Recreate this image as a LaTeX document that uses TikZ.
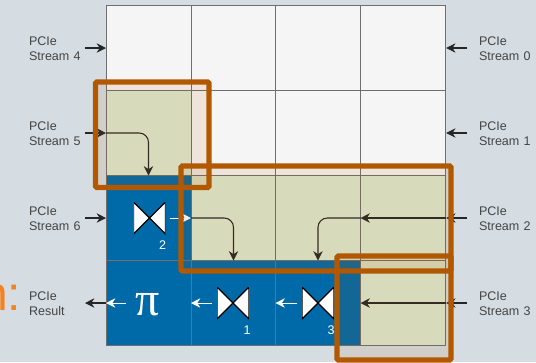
\documentclass[tikz,border=0pt]{standalone}
\usepackage{fontspec}
\setsansfont{Liberation Sans}
\newfontfamily\pifont{Liberation Serif}
\usetikzlibrary{arrows.meta, positioning}

\definecolor{pagebg}{HTML}{D5DDE3}
\definecolor{gridline}{HTML}{6E6E6E}
\definecolor{cellfree}{HTML}{F5F5F5}
\definecolor{cellwait}{HTML}{DCEAD2}
\definecolor{celldone}{HTML}{0069A8}
\definecolor{boxorange}{HTML}{B25800}
\definecolor{titleorange}{HTML}{F58220}
\definecolor{labelgrey}{HTML}{444444}

\tikzset{
	cell/.style={draw=gridline, line width=0.75pt, minimum width=63.75pt, minimum height=63.75pt, inner sep=0pt, outer sep=0pt},
	freecell/.style={cell, fill=cellfree},
	waitcell/.style={cell, fill=cellwait},
	donecell/.style={cell, fill=celldone},
	streamlabel/.style={text=labelgrey, font=\sffamily\fontsize{9.4}{11.25}\selectfont, align=left, text width=39pt, inner sep=0pt, outer sep=0pt},
	flow/.style={->, line width=0.8pt, black!85},
	whiteflow/.style={->, line width=0.7pt, white},
	bowtie/.style={minimum width=24pt, minimum height=24pt, inner sep=0pt, outer sep=0pt,
		path picture={
			\draw[fill=white, line width=0.9pt, line join=round]
				(path picture bounding box.north west) -- (path picture bounding box.south east)
				-- (path picture bounding box.north east) -- (path picture bounding box.south west) -- cycle;
		}},
	stagenum/.style={text=white, font=\sffamily\fontsize{9.4}{11}\selectfont, inner sep=0pt},
	selbox/.style={draw=boxorange, line width=4.1pt, fill=boxorange, fill opacity=0.1, draw opacity=1, rounded corners=1.2pt}
}

\begin{document}
\begin{tikzpicture}[x=0.75pt, y=-0.75pt, >={Stealth[length=7pt, width=7pt]}, font=\sffamily]

		% Page
		\useasboundingbox (0,0) rectangle (536,362);
		\fill[pagebg] (0,0) rectangle (536,362);

		% Leftover of the slide title
		\node[anchor=base east, inner sep=0pt, text=titleorange, font=\sffamily\fontsize{36}{36}\selectfont] (title) at (21.6,310) {n:};

		% ---------------------------------------------------------
		% Grid
		% ---------------------------------------------------------
		\node[freecell] (cella0) at (148.5,48) {};
		\node[freecell] (cella1) at (233.5,48) {};
		\node[freecell] (cella2) at (318,48) {};
		\node[freecell] (cella3) at (403,48) {};

		\node[waitcell] (cellb0) at (148.5,133) {};
		\node[freecell] (cellb1) at (233.5,133) {};
		\node[freecell] (cellb2) at (318,133) {};
		\node[freecell] (cellb3) at (403,133) {};

		\node[donecell] (cellc0) at (148.5,218) {};
		\node[waitcell] (cellc1) at (233.5,218) {};
		\node[waitcell] (cellc2) at (318,218) {};
		\node[waitcell] (cellc3) at (403,218) {};

		\node[donecell] (celld0) at (148.5,303) {};
		\node[donecell] (celld1) at (233.5,303) {};
		\node[donecell] (celld2) at (318,303) {};
		\node[waitcell] (celld3) at (403,303) {};

		% Operators
		\node[bowtie] (tie2) at (149.5,218) {};
		\node[bowtie] (tie1) at (233,303) {};
		\node[bowtie] (tie3) at (318,303) {};
		\node[stagenum] (num2) at (162.5,245) {2};
		\node[stagenum] (num1) at (247,330) {1};
		\node[stagenum] (num3) at (331,330) {3};
		\node[text=white, inner sep=0pt, font=\pifont\fontsize{36}{36}\selectfont] (product) at (148,305) {π};

		% ---------------------------------------------------------
		% Labels
		% ---------------------------------------------------------
		\node[streamlabel] (stream4) at (55,48.7) {PCIe\\Stream 4};
		\node[streamlabel] (stream5) at (55,133.7) {PCIe\\Stream 5};
		\node[streamlabel] (stream6) at (55,218.7) {PCIe\\Stream 6};
		\node[streamlabel] (result) at (55,303.7) {PCIe\\Result};

		\node[streamlabel] (stream0) at (505,48.7) {PCIe\\Stream 0};
		\node[streamlabel] (stream1) at (505,133.7) {PCIe\\Stream 1};
		\node[streamlabel] (stream2) at (505,218.7) {PCIe\\Stream 2};
		\node[streamlabel] (stream3) at (505,303.7) {PCIe\\Stream 3};

		% ---------------------------------------------------------
		% Arrows
		% ---------------------------------------------------------
		% Left side
		\draw[flow, shorten <=3pt] (stream4.east |- cella0) -- (cella0);
		\draw[flow, shorten <=3pt] (stream5.east |- cellb0) -- (cellb0);
		\draw[flow, shorten <=3pt] (stream6.east |- cellc0) -- (cellc0);
		\draw[flow, shorten >=3pt] (celld0) -- (result.east |- celld0);

		% Right side
		\draw[flow, shorten <=9pt, shorten >=0.5pt] (stream0.west |- cella3) -- (cella3);
		\draw[flow, shorten <=9pt, shorten >=0.5pt] (stream1.west |- cellb3) -- (cellb3);
		\draw[flow, shorten <=9pt, shorten >=0.5pt] (stream2.west |- cellc3) -- (cellc3);
		\draw[flow, shorten <=9pt, shorten >=0.5pt] (stream3.west |- celld3) -- (celld3);

		% Across the cells
		\draw[flow, rounded corners=7pt] (cellb0.west) -| (cellb0.south);
		\draw[flow, rounded corners=7pt] (cellc1.west) -| (cellc1.south);
		\draw[flow] (cellc3.east) -- (cellc3.west);
		\draw[flow] (celld3.east) -- (celld3.west);
		\draw[flow, rounded corners=7pt] (cellc3.west) -- (cellc2.center) -- (cellc2.south);

		% Through the operators
		\draw[whiteflow, shorten <=3pt] (tie2.east) -- (cellc1.west);
		\draw[whiteflow, shorten <=3.5pt] (tie1.west) -- (celld1.west);
		\draw[whiteflow, shorten <=3.5pt] (tie3.west) -- (celld2.west);
		\draw[whiteflow, shorten <=7pt] (product.west |- celld0.center) -- (celld0.west);

		% ---------------------------------------------------------
		% Selection boxes
		% ---------------------------------------------------------
		\draw[selbox] (95.5,82) rectangle (209,187.5);
		\draw[selbox] (181,166) rectangle (451,271);
		\draw[selbox] (337,256) rectangle (451,360);

\end{tikzpicture}
\end{document}
